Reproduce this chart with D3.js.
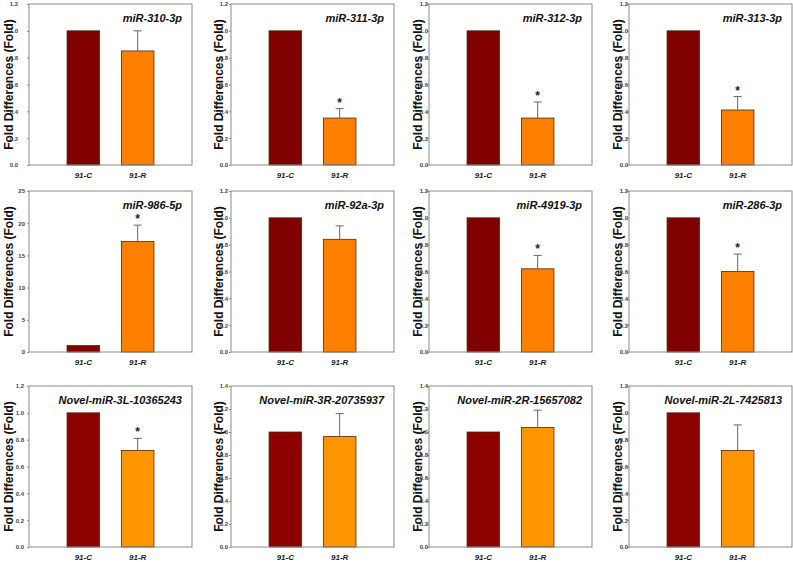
<!DOCTYPE html>
<html>
<head>
<meta charset="utf-8">
<script src="https://cdn.jsdelivr.net/npm/d3@7/dist/d3.min.js"></script>
<style>
html,body{margin:0;padding:0;background:#fff;}
svg{display:block;}
</style>
</head>
<body>
<svg id="chart" width="793" height="562"></svg>
<script>
// ---- data ----
const categories = ["91-C", "91-R"];
const panelTitles = [
  "miR-310-3p", "miR-311-3p", "miR-312-3p", "miR-313-3p",
  "miR-986-5p", "miR-92a-3p", "miR-4919-3p", "miR-286-3p",
  "Novel-miR-3L-10365243", "Novel-miR-3R-20735937", "Novel-miR-2R-15657082", "Novel-miR-2L-7425813"
];
const controlValues = [1, 1, 1, 1, 1, 1, 1, 1, 1, 1, 1, 1];
const treatedValues = [0.85, 0.35, 0.35, 0.41, 17.15, 0.84, 0.62, 0.60, 0.72, 0.96, 1.04, 0.72];
const treatedErrors = [0.15, 0.07, 0.12, 0.10, 2.55, 0.10, 0.10, 0.13, 0.09, 0.20, 0.15, 0.19];
const significant = [false, true, true, true, true, false, true, true, true, false, false, false];
const yMaxValues = [1.2, 1.2, 1.2, 1.2, 25, 1.2, 1.2, 1.2, 1.2, 1.4, 1.4, 1.2];
const yTickSteps = [0.2, 0.2, 0.2, 0.2, 5, 0.2, 0.2, 0.2, 0.2, 0.2, 0.2, 0.2];
const yAxisTitle = "Fold Differences (Fold)";

// ---- layout ----
const colLeft = [29, 231, 429, 629];
const rowTop = [4, 191, 386];
const plotW = 163, plotH = 161;
const titleOffset = [19, 11, 10, 10];
const tickGap = [11, 3, 1, 1, 4, 3, 1, 1, 5, 3, 1, 1];
const darkColors = ["#800000", "#800000", "#8c0000"];
const orangeColors = ["#ff8000", "#ff8000", "#ff9600"];

const svg = d3.select("#chart");

panelTitles.forEach((title, i) => {
  const row = Math.floor(i / 4), col = i % 4;
  const g = svg.append("g").attr("transform", `translate(${colLeft[col]},${rowTop[row]})`);

  const x = d3.scaleLinear().domain([0, 3]).range([0, plotW]);
  const y = d3.scaleLinear().domain([0, yMaxValues[i]]).range([plotH, 0]);
  const barW = x(0.6) - x(0);

  const vals = [controlValues[i], treatedValues[i]];
  const fills = [darkColors[row], orangeColors[row]];

  // y axis title (drawn first so tick labels sit on top)
  g.append("text")
    .attr("transform", `translate(${-titleOffset[col]},${plotH / 2}) rotate(-90)`)
    .attr("text-anchor", "middle")
    .attr("dominant-baseline", "middle")
    .attr("font-family", "Liberation Sans, Arial, sans-serif")
    .attr("font-size", 12).attr("font-weight", "bold")
    .attr("fill", "#111").text(yAxisTitle);

  // bars
  g.selectAll("rect.bar").data(vals).join("rect")
    .attr("class", "bar")
    .attr("x", (d, k) => x(k + 1) - barW / 2)
    .attr("y", d => y(d))
    .attr("width", barW)
    .attr("height", d => plotH - y(d))
    .attr("fill", (d, k) => fills[k])
    .attr("stroke", "#4a2a10")
    .attr("stroke-width", 0.8);

  // error bar (upper only)
  const cx = x(2);
  const top = y(treatedValues[i] + treatedErrors[i]);
  g.append("line").attr("x1", cx).attr("x2", cx)
    .attr("y1", y(treatedValues[i])).attr("y2", top)
    .attr("stroke", "#666").attr("stroke-width", 1);
  g.append("line").attr("x1", cx - 4).attr("x2", cx + 4)
    .attr("y1", top).attr("y2", top)
    .attr("stroke", "#666").attr("stroke-width", 1);

  if (significant[i]) {
    g.append("text").attr("x", cx).attr("y", top - 2)
      .attr("text-anchor", "middle")
      .attr("font-family", "Liberation Sans, Arial, sans-serif")
      .attr("font-weight", "bold").attr("font-size", 12)
      .attr("fill", "#222").text("*");
  }

  // frame
  g.append("rect").attr("x", 0).attr("y", 0).attr("width", plotW).attr("height", plotH)
    .attr("fill", "none").attr("stroke", "#8a8a8a").attr("stroke-width", 1);

  // y axis
  const ticks = d3.range(0, yMaxValues[i] + yTickSteps[i] / 2, yTickSteps[i]);
  const fmt = yTickSteps[i] >= 1 ? d3.format("d") : d3.format(".1f");
  const yAxis = d3.axisLeft(y).tickValues(ticks).tickFormat(fmt).tickSize(2).tickPadding(tickGap[i] - 2 < 0 ? 0 : tickGap[i] - 2);
  const ya = g.append("g").call(yAxis);
  ya.select(".domain").remove();
  ya.selectAll(".tick line").attr("stroke", "#8a8a8a");
  ya.selectAll(".tick text")
    .attr("x", -tickGap[i])
    .attr("font-family", "Liberation Sans, Arial, sans-serif")
    .attr("font-size", 6).attr("font-weight", "bold").attr("fill", "#444");

  // x labels
  g.selectAll("text.xl").data(categories).join("text")
    .attr("class", "xl")
    .attr("x", (d, k) => x(k + 1))
    .attr("y", plotH + 13)
    .attr("text-anchor", "middle")
    .attr("font-family", "Liberation Sans, Arial, sans-serif")
    .attr("font-size", 8).attr("font-weight", "bold").attr("font-style", "italic")
    .attr("fill", "#222").text(d => d);

  // panel title
  g.append("text").attr("x", plotW - 10).attr("y", 18)
    .attr("text-anchor", "end")
    .attr("font-family", "Liberation Sans, Arial, sans-serif")
    .attr("font-size", 11).attr("font-weight", "bold").attr("font-style", "italic")
    .attr("fill", "#111").text(title);
});
</script>
</body>
</html>
